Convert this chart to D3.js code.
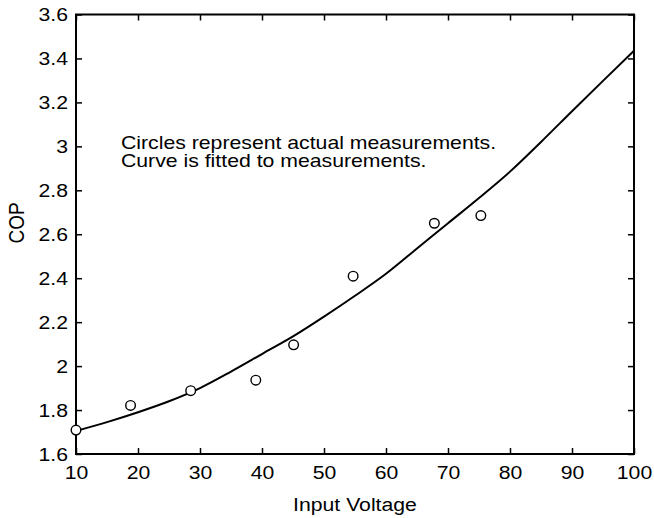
<!DOCTYPE html>
<html>
<head>
<meta charset="utf-8">
<script src="https://cdn.jsdelivr.net/npm/d3@7"></script>
<style>
  html, body { margin: 0; padding: 0; background: #fff; }
  svg { display: block; }
  text { font-family: "Liberation Sans", Arial, Helvetica, sans-serif; fill: #000; }
</style>
</head>
<body>
<svg id="chart" width="654" height="518"></svg>
<script>
// Data
const measVoltage = [10, 18.8, 28.5, 39.0, 45.1, 54.7, 67.8, 75.3];
const measCOP     = [1.709, 1.821, 1.888, 1.936, 2.097, 2.409, 2.650, 2.685];
const fitVoltage  = [10, 15, 20, 25, 30, 35, 40, 45, 50, 55, 60, 65, 70, 75, 80, 85, 90, 95, 100];
const fitCOP      = [1.705, 1.745, 1.79, 1.84, 1.90, 1.975, 2.055, 2.135, 2.225, 2.32, 2.42, 2.535, 2.65, 2.765, 2.885, 3.02, 3.16, 3.298, 3.435];
const xTicks = [10, 20, 30, 40, 50, 60, 70, 80, 90, 100];
const yTicks = [1.6, 1.8, 2, 2.2, 2.4, 2.6, 2.8, 3, 3.2, 3.4, 3.6];
const annotation = ["Circles represent actual measurements.", "Curve is fitted to measurements."];

const L = 76, R = 634, T = 14.5, B = 454;
const FS = 19, SX = 1.117;
const svg = d3.select("#chart");
const x = d3.scaleLinear().domain([10, 100]).range([L, R]);
const y = d3.scaleLinear().domain([1.6, 3.6]).range([B, T]);

const fmt = d => String(+d.toFixed(1));
const tl = 6;

function stretch(sel, s) {
  sel.each(function () {
    const t = d3.select(this);
    const ax = +t.attr("x") || 0;
    const prev = t.attr("transform") || "";
    t.attr("transform", `${prev} translate(${ax},0) scale(${s || SX},1) translate(${-ax},0)`);
  });
}

const gB = svg.append("g").attr("transform", `translate(0,${B})`)
  .call(d3.axisBottom(x).tickValues(xTicks).tickSizeInner(-tl).tickSizeOuter(0).tickPadding(12).tickFormat(d => d));
const gL = svg.append("g").attr("transform", `translate(${L},0)`)
  .call(d3.axisLeft(y).tickValues(yTicks).tickSizeInner(-tl).tickSizeOuter(0).tickPadding(8).tickFormat(fmt));
const gT = svg.append("g").attr("transform", `translate(0,${T})`)
  .call(d3.axisTop(x).tickValues(xTicks).tickSizeInner(-tl).tickSizeOuter(0).tickFormat(""));
const gR = svg.append("g").attr("transform", `translate(${R},0)`)
  .call(d3.axisRight(y).tickValues(yTicks).tickSizeInner(-tl).tickSizeOuter(0).tickFormat(""));

[gB, gL, gT, gR].forEach(g => {
  g.select(".domain").remove();
  g.selectAll(".tick line").attr("stroke", "#000").attr("stroke-width", 1.5);
  g.selectAll(".tick text").attr("font-size", FS).attr("font-family", "Liberation Sans, Arial, sans-serif").attr("fill", "#000");
});
gL.selectAll(".tick text").attr("x", -8);
stretch(gB.selectAll(".tick text"));
stretch(gL.selectAll(".tick text"));

// Frame
svg.append("rect").attr("x", L).attr("y", T).attr("width", R - L).attr("height", B - T)
  .attr("fill", "none").attr("stroke", "#000").attr("stroke-width", 2);

// Fitted curve
const fitData = fitVoltage.map((v, i) => [v, fitCOP[i]]);
svg.append("path").datum(fitData)
  .attr("fill", "none").attr("stroke", "#000").attr("stroke-width", 2).attr("stroke-linejoin", "round")
  .attr("d", d3.line().x(d => x(d[0])).y(d => y(d[1])).curve(d3.curveMonotoneX));

// Measurements
svg.append("g").selectAll("circle").data(measVoltage.map((v, i) => [v, measCOP[i]]))
  .join("circle")
  .attr("cx", d => x(d[0])).attr("cy", d => y(d[1])).attr("r", 4.8)
  .attr("fill", "#fff").attr("stroke", "#000").attr("stroke-width", 1.4);

// Annotation
const ann = svg.append("g").selectAll("text").data(annotation).join("text")
  .attr("x", 121).attr("y", (d, i) => 149 + i * 18.5)
  .attr("font-size", 18).text(d => d);
stretch(ann, 1.18);

// Axis titles
const xt = svg.append("text").attr("x", (L + R) / 2).attr("y", 511).attr("text-anchor", "middle")
  .attr("font-size", FS).text("Input Voltage");
stretch(xt);
svg.append("text").attr("transform", `translate(24,223) rotate(-90) scale(1,${SX})`).attr("text-anchor", "middle")
  .attr("font-size", FS).text("COP");
</script>
</body>
</html>
